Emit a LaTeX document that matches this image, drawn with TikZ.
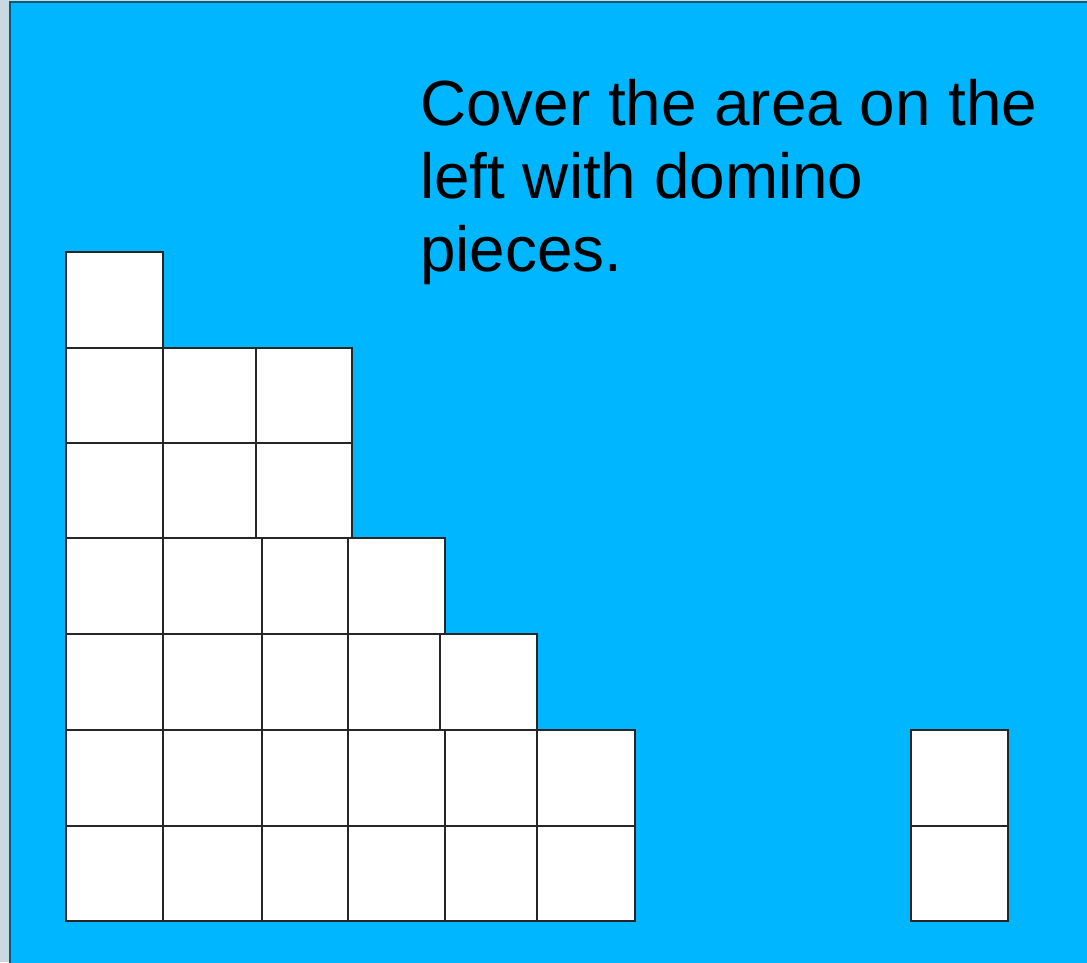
\documentclass[tikz,border=0pt]{standalone}
\usepackage{fontspec}
\setmainfont{Liberation Sans}
\usepackage{tikz}
\usetikzlibrary{positioning}
\definecolor{slideblue}{HTML}{00B7FF}
\definecolor{slideedge}{HTML}{0A5A7A}
\definecolor{deskgray}{HTML}{C9D9E2}

\begin{document}
\begin{tikzpicture}[
  x=1pt, y=-1pt,
  cell/.style={draw=black!85, fill=white, line width=1.9pt},
  task/.style={anchor=base west, align=left, inner sep=0pt,
    font=\fontsize{63.8}{73}\selectfont},
]
  %% Background: desktop strip and slide
  \fill[deskgray] (0,0) rectangle (1087,962);
  \useasboundingbox (0,0) rectangle (1087,962);
  \filldraw[fill=slideblue, draw=slideedge, line width=1.5pt] (10,2) rectangle (1090,965);

  %% Instruction text (top right), anchored at the last line
  \node[task] (task) at (420,271)
    {Cover the area on the\\left with domino\\pieces.};

  %% Column 1: seven cells
  \foreach \ya/\yb in {252/348, 348/443, 443/538, 538/634, 634/730, 730/826, 826/921}
    \draw[cell] (66,\ya) rectangle (163,\yb);

  %% Columns 2 and 3: upper two rows
  \foreach \xa/\xb in {163/256, 256/352}
    \foreach \ya/\yb in {348/443, 443/538}
      \draw[cell] (\xa,\ya) rectangle (\xb,\yb);

  %% Columns 2 to 4: lower four rows
  \foreach \xa/\xb in {163/262, 262/348, 348/445}
    \foreach \ya/\yb in {538/634, 634/730, 730/826, 826/921}
      \draw[cell] (\xa,\ya) rectangle (\xb,\yb);

  %% Column 5: three cells
  \draw[cell] (440,634) rectangle (537,730);
  \foreach \ya/\yb in {730/826, 826/921}
    \draw[cell] (445,\ya) rectangle (537,\yb);

  %% Column 6: two cells
  \foreach \ya/\yb in {730/826, 826/921}
    \draw[cell] (537,\ya) rectangle (635,\yb);

  %% Domino piece (right)
  \foreach \ya/\yb in {730/826, 826/921}
    \draw[cell] (911,\ya) rectangle (1008,\yb);
\end{tikzpicture}
\end{document}
